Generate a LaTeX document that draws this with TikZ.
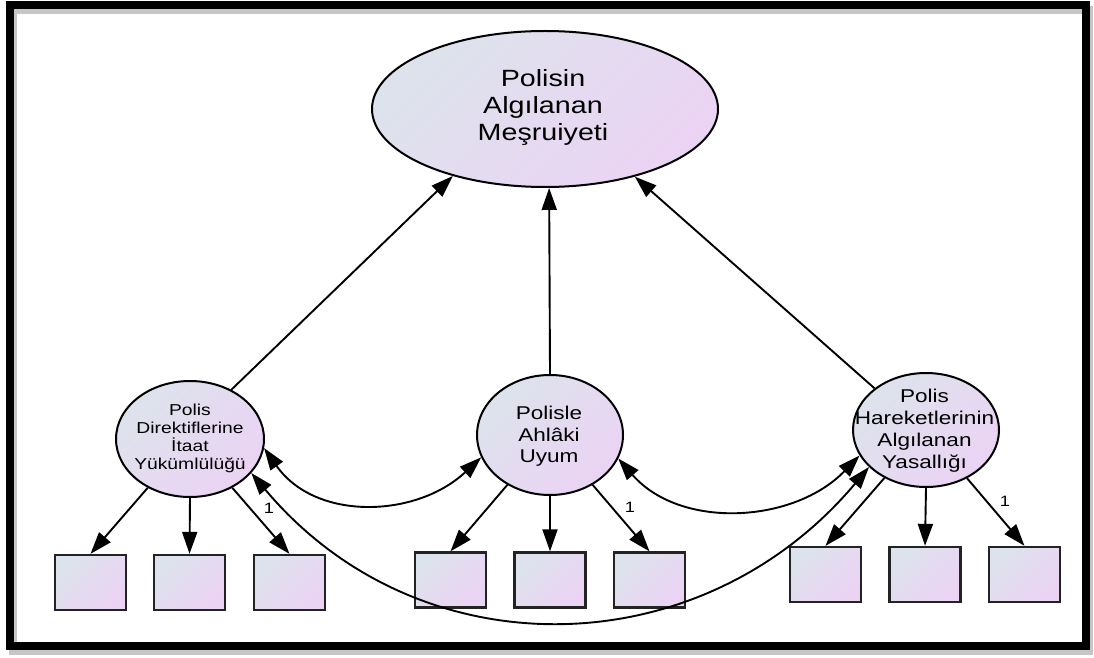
\documentclass[tikz,border=0pt]{standalone}
\usepackage{fontspec}
\setmainfont{Liberation Sans}[FakeStretch=1.22]
\usetikzlibrary{arrows.meta,shapes.geometric}
\definecolor{cA}{RGB}{221,227,236}
\definecolor{cB}{RGB}{235,211,244}
\definecolor{boxline}{RGB}{35,35,35}
\tikzset{
  lat/.style={ellipse, draw=black, line width=2pt, inner sep=0pt,
    top color=cA, bottom color=cB, shading angle=45},
  obs/.style={rectangle, draw=boxline, line width=2.3pt, inner sep=0pt,
    minimum width=71pt, minimum height=55pt,
    top color=cA, bottom color=cB, shading angle=45},
  txt/.style={align=center, inner sep=0pt, text=black},
  arr/.style={line width=1.9pt, ->},
  darr/.style={line width=1.9pt, <->},
  one/.style={font=\fontsize{15}{17}\selectfont, inner sep=0pt}
}
\begin{document}
\begin{tikzpicture}[x=1pt, y=1pt, >={Triangle[length=22pt,width=15pt]}]
\useasboundingbox (0,0) rectangle (1094,657);
% frame with shadow
\draw[gray!45, line width=8pt] (13,6.5) rectangle (1089,647);
\draw[black, line width=8pt] (10,11.5) rectangle (1086,652);

% latent variables
\node[lat, minimum width=346pt, minimum height=156pt] (T) at (545,548) {};
\node[lat, minimum width=148pt, minimum height=116pt] (L) at (190,218) {};
\node[lat, minimum width=146pt, minimum height=120pt] (M) at (550,222) {};
\node[lat, minimum width=146pt, minimum height=114pt] (R) at (926,227) {};

\node[txt, font=\fontsize{23.5}{26.6}\selectfont] (Tt) at (543,549.5) {Polisin\\Algılanan\\Meşruiyeti};
\node[txt, font=\fontsize{15.8}{17.7}\selectfont] (Lt) at (190,218.6) {Polis\\Direktiflerine\\İtaat\\Yükümlülüğü};
\node[txt, font=\fontsize{18.5}{21.6}\selectfont] (Mt) at (549,220.6) {Polisle\\Ahlâki\\Uyum};
\node[txt, font=\fontsize{18.5}{21.9}\selectfont] (Rt) at (924.5,226) {Polis\\Hareketlerinin\\Algılanan\\Yasallığı};

% observed variables
\node[obs] (L1) at (90.5,74.5) {};
\node[obs] (L2) at (189.5,74.5) {};
\node[obs] (L3) at (289.5,74.5) {};
\node[obs] (M1) at (450.5,77) {};
\node[obs] (M2) at (550,77) {};
\node[obs] (M3) at (649.5,77) {};
\node[obs] (R1) at (825.5,82.5) {};
\node[obs] (R2) at (925,82.5) {};
\node[obs] (R3) at (1024.5,82.5) {};

% structural paths
\draw[arr] (L.50.5) -- (T.216);
\draw[arr] (M.90) -- (T.273);
\draw[arr] (R.141.6) -- (T.323);

% measurement paths
\draw[arr] (L) -- (L1.north);
\draw[arr] (L.south) -- (L2.north);
\draw[arr] (L) -- (L3.north);
\draw[arr] (M) -- (M1.north);
\draw[arr] (M.south) -- (M2.north);
\draw[arr] (M) -- (M3.north);
\draw[arr] (R) -- (R1.north);
\draw[arr] (R.south) -- (R2.north);
\draw[arr] (R) -- (R3.north);

\node[one] (o1) at (269,149) {1};
\node[one] (o2) at (630,150) {1};
\node[one] (o3) at (1005,156) {1};

% covariances
\draw[darr] (L.353) to[out=-55, in=-137, looseness=1.05] (M.198);
\draw[darr] (M.341) to[out=-49, in=-134] (R.201.6);
\draw[darr] (L.331) to[out=-50, in=-130, looseness=1.08] (R.213);
\end{tikzpicture}
\end{document}
